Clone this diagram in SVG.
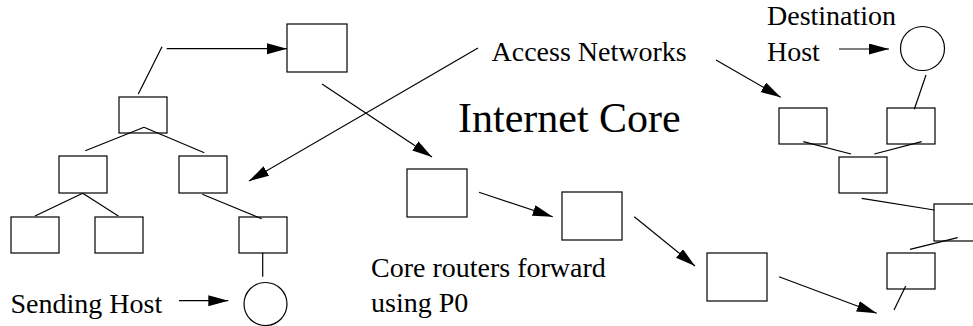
<svg xmlns="http://www.w3.org/2000/svg" width="973" height="326" viewBox="0 0 973 326">
<style>
.box{fill:none;stroke:#000;stroke-width:1.2}
.host{fill:none;stroke:#000;stroke-width:1.2}
.ln{fill:none;stroke:#000;stroke-width:1.2}
.arr{fill:none;stroke:#000;stroke-width:1.2;marker-end:url(#ah)}
text{font-family:'Liberation Serif','Times New Roman','DejaVu Serif',serif;font-size:28px;fill:#000}
</style>
<defs>
<marker id="ah" markerUnits="userSpaceOnUse" markerWidth="21" markerHeight="12" refX="20" refY="5.5" orient="auto" viewBox="0 0 21 12">
<path d="M0,0 L20,5.5 L0,11 z" fill="#000"/>
</marker>
</defs>
<rect width="973" height="326" fill="#fff"/>
<g id="connectors">
<line class="ln" x1="162" y1="46.7" x2="138.3" y2="94"/>
<line class="arr" x1="166.7" y1="48.7" x2="287" y2="48.7"/>
<line class="ln" x1="144" y1="127.3" x2="85.3" y2="150.7"/>
<line class="ln" x1="144" y1="127.3" x2="204.3" y2="152.7"/>
<line class="ln" x1="82.7" y1="193.3" x2="35" y2="216"/>
<line class="ln" x1="82.7" y1="193.3" x2="118.3" y2="216"/>
<line class="ln" x1="202.3" y1="194.3" x2="261.7" y2="218.7"/>
<line class="ln" x1="262.7" y1="252.7" x2="262.7" y2="276.7"/>
<line class="arr" x1="179" y1="300.7" x2="228.3" y2="300.7"/>
<line class="arr" x1="478" y1="48" x2="249" y2="181"/>
<line class="arr" x1="322" y1="84" x2="432" y2="157"/>
<line class="arr" x1="716" y1="60" x2="780.7" y2="97.3"/>
<line class="arr" x1="479" y1="192.3" x2="552.7" y2="216.7"/>
<line class="arr" x1="634.3" y1="216.7" x2="695" y2="266"/>
<line class="arr" x1="779" y1="276.7" x2="876.7" y2="313.3"/>
<line class="arr" x1="839" y1="49" x2="889" y2="49"/>
<line class="ln" x1="926" y1="75" x2="914.3" y2="109.3"/>
<line class="ln" x1="803.3" y1="141.7" x2="851" y2="154"/>
<line class="ln" x1="921.7" y1="141.7" x2="874.3" y2="154"/>
<line class="ln" x1="861.7" y1="198.3" x2="934.3" y2="210"/>
<line class="ln" x1="957.7" y1="237.7" x2="910" y2="249.3"/>
<line class="ln" x1="905.7" y1="286" x2="894" y2="310"/>
</g>
<g id="access-top"><rect class="box" x="287" y="24" width="60" height="48"/></g>
<g id="access-l1"><rect class="box" x="119" y="97" width="48" height="36"/></g>
<g id="access-l2a"><rect class="box" x="59" y="156" width="48" height="37"/></g>
<g id="access-l2b"><rect class="box" x="179" y="156" width="48" height="37"/></g>
<g id="access-l3a"><rect class="box" x="11" y="217" width="48" height="36"/></g>
<g id="access-l3b"><rect class="box" x="95" y="217" width="48" height="36"/></g>
<g id="access-l3c"><rect class="box" x="239" y="217" width="48" height="36"/></g>
<g id="sending-host"><circle class="host" cx="265.5" cy="304" r="21.5"/></g>
<g id="core1"><rect class="box" x="407" y="169" width="60" height="48"/></g>
<g id="core2"><rect class="box" x="562" y="192" width="60" height="48"/></g>
<g id="core3"><rect class="box" x="707" y="253" width="60" height="48"/></g>
<g id="dest-a"><rect class="box" x="779" y="108" width="48" height="36"/></g>
<g id="dest-b"><rect class="box" x="887" y="108" width="48" height="36"/></g>
<g id="dest-c"><rect class="box" x="839" y="157" width="48" height="36"/></g>
<g id="dest-d"><rect class="box" x="934" y="204" width="48" height="37"/></g>
<g id="dest-e"><rect class="box" x="887" y="253" width="48" height="36"/></g>
<g id="destination-host"><circle class="host" cx="922.5" cy="48.5" r="22"/></g>
<g id="label-access"><text x="491.5" y="61" font-family="Liberation Serif, serif">Access Networks</text></g>
<g id="label-core"><text x="458" y="132" font-family="Liberation Serif, serif" style="font-size:42px">Internet Core</text></g>
<g id="label-dest"><text x="767" y="25" font-family="Liberation Serif, serif">Destination</text><text x="767" y="61" font-family="Liberation Serif, serif">Host</text></g>
<g id="label-sending"><text x="10.5" y="312.5" font-family="Liberation Serif, serif">Sending Host</text></g>
<g id="label-routers"><text x="371" y="277" font-family="Liberation Serif, serif">Core routers forward</text><text x="371" y="312" font-family="Liberation Serif, serif">using P0</text></g>
</svg>
